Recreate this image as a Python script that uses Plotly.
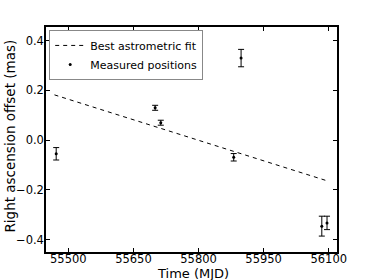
import plotly.graph_objects as go

# Measured positions
mjd = [55472, 55700, 55713, 55881, 55898, 56084, 56096]
ra_offset = [-0.055, 0.130, 0.070, -0.069, 0.330, -0.346, -0.333]
ra_err = [0.025, 0.010, 0.010, 0.015, 0.035, 0.040, 0.027]

# Best astrometric fit (straight line endpoints)
fit_mjd = [55468, 56095]
fit_ra = [0.182, -0.163]

x_ticks = [55500, 55650, 55800, 55950, 56100]
y_ticks = [-0.4, -0.2, 0.0, 0.2, 0.4]

x_title = "Time (MJD)"
y_title = "Right ascension offset (mas)"

font = "DejaVu Sans"

fig = go.Figure()
fig.add_trace(go.Scatter(
    x=fit_mjd, y=fit_ra, mode="lines", name="Best astrometric fit",
    line=dict(color="black", width=1, dash="4px,4px"),
))
fig.add_trace(go.Scatter(
    x=mjd, y=ra_offset, mode="markers", name="Measured positions",
    marker=dict(color="black", size=3),
    error_y=dict(type="data", array=ra_err, visible=True, color="black",
                 thickness=1, width=3),
))

axis_common = dict(
    showgrid=False, zeroline=False, showline=True, linecolor="black",
    linewidth=1.5, mirror="ticks", ticks="inside", ticklen=4,
    tickwidth=1, tickcolor="black", automargin=False,
    tickfont=dict(family=font, size=11.5, color="black"),
)

fig.update_layout(
    width=374, height=280,
    margin=dict(l=46, r=37, t=27, b=28),
    paper_bgcolor="white", plot_bgcolor="white",
    showlegend=True,
    legend=dict(
        x=0.011, y=0.987, xanchor="left", yanchor="top",
        bgcolor="white", bordercolor="#888888", borderwidth=1,
        font=dict(family=font, size=11, color="black"),
        tracegroupgap=0, itemwidth=30,
    ),
    xaxis=dict(range=[55448.5, 56119], tickvals=x_ticks, tickformat="d",
               ticklabelstandoff=-5, **axis_common),
    yaxis=dict(range=[-0.45, 0.455], tickvals=y_ticks, tickformat=".1f",
               ticklabelstandoff=-2, **axis_common),
    annotations=[
        dict(text=x_title, xref="paper", yref="paper", x=0.505, y=0,
             xanchor="center", yanchor="middle", yshift=-21.5, showarrow=False,
             font=dict(family=font, size=13, color="black")),
        dict(text=y_title, xref="paper", yref="paper", x=0, y=0.513,
             xanchor="center", yanchor="middle", xshift=-36, textangle=-90,
             showarrow=False,
             font=dict(family=font, size=13.5, color="black")),
    ],
)

fig.write_html("out.html", config={"displayModeBar": False},
               post_script="document.body.style.margin='0';document.body.style.overflow='hidden';")
